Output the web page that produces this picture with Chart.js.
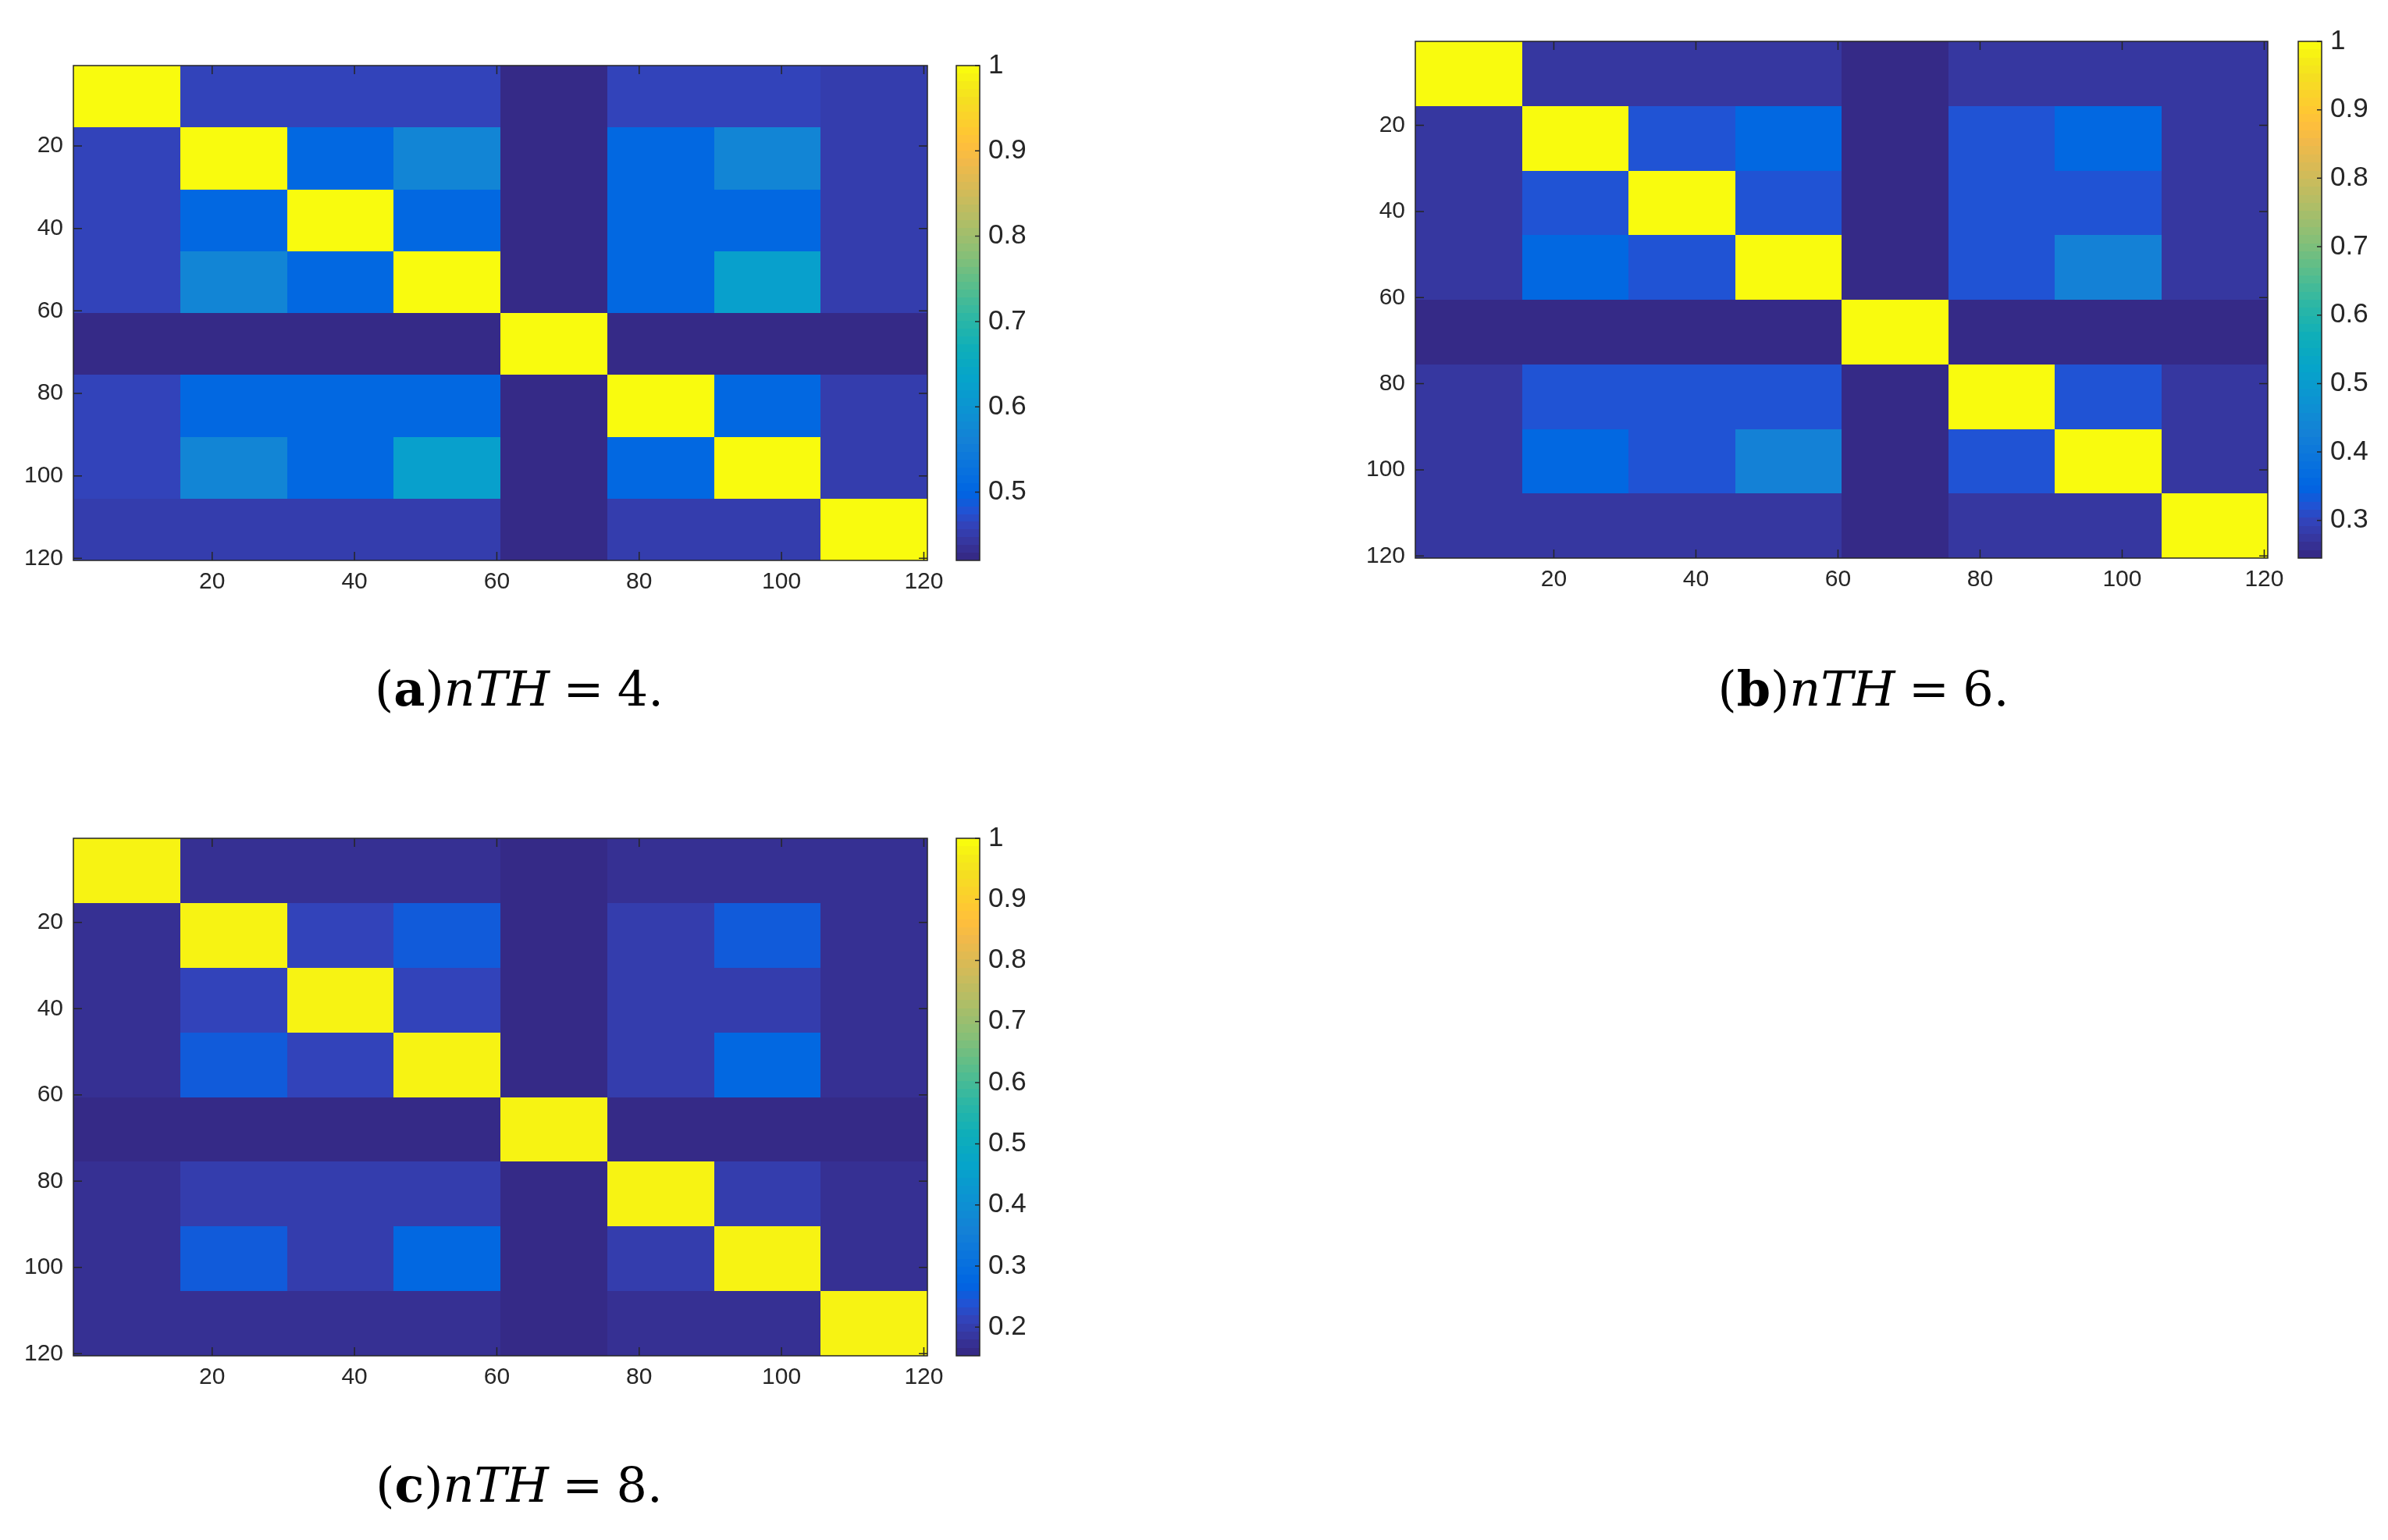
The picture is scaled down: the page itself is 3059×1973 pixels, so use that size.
<!DOCTYPE html>
<html>
<head>
<meta charset="utf-8">
<title>Block similarity matrices, nTH = 4, 6, 8</title>
<script src="https://cdn.jsdelivr.net/npm/chart.js@4.4.1/dist/chart.umd.min.js"></script>
<style>
  body { margin: 0; background: #fff; width: 3059px; height: 1973px; position: relative; overflow: hidden; }
  .box { position: absolute; }
  .box canvas { display: block; }
  .cap { position: absolute; width: 800px; text-align: center; font-family: "DejaVu Serif", serif;
         font-size: 62px; line-height: 1; color: #000; white-space: nowrap; }
  .cap .eq { margin: 0 0.28em; }
</style>
</head>
<body>
<div class="box" id="mapBoxA"><canvas id="mapA"></canvas></div>
<div class="box" id="cbBoxA"><canvas id="cbA"></canvas></div>
<div class="box" id="mapBoxB"><canvas id="mapB"></canvas></div>
<div class="box" id="cbBoxB"><canvas id="cbB"></canvas></div>
<div class="box" id="mapBoxC"><canvas id="mapC"></canvas></div>
<div class="box" id="cbBoxC"><canvas id="cbC"></canvas></div>

<div class="cap" style="left:265px; top:852px;">(<b>a</b>)<i>nTH</i><span class="eq">=</span>4.</div>
<div class="cap" style="left:1987px; top:852px;">(<b>b</b>)<i>nTH</i><span class="eq">=</span>6.</div>
<div class="cap" style="left:265px; top:1872px;">(<b>c</b>)<i>nTH</i><span class="eq">=</span>8.</div>

<script>
// 120x120 matrix made of 8 groups of 15 rows/cols
const blockEdges = [0.5, 15.5, 30.5, 45.5, 60.5, 75.5, 90.5, 105.5, 120.5];
const axisTicks = [20, 40, 60, 80, 100, 120];

// (a) nTH = 4
const simA = [
  [1.00, 0.46, 0.46, 0.46, 0.42, 0.46, 0.46, 0.45],
  [0.46, 1.00, 0.505, 0.57, 0.42, 0.505, 0.57, 0.45],
  [0.46, 0.505, 1.00, 0.505, 0.42, 0.505, 0.505, 0.45],
  [0.46, 0.57, 0.505, 1.00, 0.42, 0.505, 0.625, 0.45],
  [0.42, 0.42, 0.42, 0.42, 1.00, 0.42, 0.42, 0.42],
  [0.46, 0.505, 0.505, 0.505, 0.42, 1.00, 0.505, 0.45],
  [0.46, 0.57, 0.505, 0.625, 0.42, 0.505, 1.00, 0.45],
  [0.45, 0.45, 0.45, 0.45, 0.42, 0.45, 0.45, 1.00]
];
const rangeA = [0.42, 1];
const cbTicksA = [0.5, 0.6, 0.7, 0.8, 0.9, 1];

// (b) nTH = 6
const simB = [
  [1.00, 0.27, 0.27, 0.27, 0.25, 0.27, 0.27, 0.27],
  [0.27, 1.00, 0.32, 0.355, 0.25, 0.32, 0.355, 0.27],
  [0.27, 0.32, 1.00, 0.32, 0.25, 0.32, 0.32, 0.27],
  [0.27, 0.355, 0.32, 1.00, 0.25, 0.32, 0.43, 0.27],
  [0.25, 0.25, 0.25, 0.25, 1.00, 0.25, 0.25, 0.25],
  [0.27, 0.32, 0.32, 0.32, 0.25, 1.00, 0.32, 0.27],
  [0.27, 0.355, 0.32, 0.43, 0.25, 0.32, 1.00, 0.27],
  [0.27, 0.27, 0.27, 0.27, 0.25, 0.27, 0.27, 1.00]
];
const rangeB = [0.245, 1];
const cbTicksB = [0.3, 0.4, 0.5, 0.6, 0.7, 0.8, 0.9, 1];

// (c) nTH = 8
const simC = [
  [0.985, 0.17, 0.17, 0.17, 0.155, 0.17, 0.17, 0.17],
  [0.17, 0.985, 0.21, 0.25, 0.155, 0.20, 0.25, 0.17],
  [0.17, 0.21, 0.985, 0.21, 0.155, 0.20, 0.20, 0.17],
  [0.17, 0.25, 0.21, 0.985, 0.155, 0.20, 0.275, 0.17],
  [0.155, 0.155, 0.155, 0.155, 0.985, 0.155, 0.155, 0.155],
  [0.17, 0.20, 0.20, 0.20, 0.155, 0.985, 0.20, 0.17],
  [0.17, 0.25, 0.20, 0.275, 0.155, 0.20, 0.985, 0.17],
  [0.17, 0.17, 0.17, 0.17, 0.155, 0.17, 0.17, 0.985]
];
const rangeC = [0.153, 1];
const cbTicksC = [0.2, 0.3, 0.4, 0.5, 0.6, 0.7, 0.8, 0.9, 1];

// parula colormap, a few of its 64 entries (index, r, g, b)
const parulaStops = [
  [0, 0.2081, 0.1663, 0.5292], [2, 0.2123, 0.2138, 0.6270], [4, 0.1959, 0.2645, 0.7279],
  [6, 0.1253, 0.3242, 0.8303], [8, 0.0117, 0.3875, 0.8820], [9, 0.0060, 0.4086, 0.8828],
  [11, 0.0329, 0.4430, 0.8720], [15, 0.0779, 0.5040, 0.8384], [19, 0.0488, 0.5772, 0.8228],
  [23, 0.0231, 0.6418, 0.7913], [27, 0.0590, 0.6838, 0.7254], [31, 0.1801, 0.7177, 0.6424],
  [35, 0.3482, 0.7424, 0.5473], [39, 0.5300, 0.7491, 0.4661], [43, 0.6834, 0.7435, 0.4044],
  [47, 0.8185, 0.7327, 0.3498], [51, 0.9450, 0.7261, 0.2886], [53, 0.9938, 0.7455, 0.2403],
  [55, 0.9955, 0.7861, 0.1967], [59, 0.9626, 0.8705, 0.1309], [61, 0.9598, 0.9218, 0.0948],
  [63, 0.9763, 0.9831, 0.0538]
];

function parula(k) {
  // k: colormap index 0..63
  for (let i = 1; i < parulaStops.length; i++) {
    const a = parulaStops[i - 1], b = parulaStops[i];
    if (k <= b[0]) {
      const f = (k - a[0]) / (b[0] - a[0]);
      const c = [1, 2, 3].map(n => Math.round(255 * (a[n] + (b[n] - a[n]) * f)));
      return `rgb(${c[0]},${c[1]},${c[2]})`;
    }
  }
  return 'rgb(249,251,14)';
}

function valueColor(v, range) {
  const t = (v - range[0]) / (range[1] - range[0]);
  return parula(Math.max(0, Math.min(63, Math.floor(t * 64))));
}

function cellsOf(mat) {
  const cells = [];
  mat.forEach((row, i) => row.forEach((v, j) => {
    cells.push({
      x: (blockEdges[j] + blockEdges[j + 1]) / 2, y: (blockEdges[i] + blockEdges[i + 1]) / 2,
      x0: blockEdges[j], x1: blockEdges[j + 1], y0: blockEdges[i], y1: blockEdges[i + 1], v
    });
  }));
  return cells;
}

const ink = '#262626';
Chart.defaults.font.family = '"Liberation Sans", Arial, sans-serif';
Chart.defaults.color = ink;

// draws the matrix cells and the matlab-style box with inward ticks
const heatPlugin = {
  id: 'heatCells',
  beforeDatasetsDraw(chart, args, opts) {
    const { ctx, scales: { x, y } } = chart;
    ctx.save();
    chart.data.datasets[0].data.forEach(c => {
      const l = Math.round(x.getPixelForValue(c.x0)), r = Math.round(x.getPixelForValue(c.x1));
      const t = Math.round(y.getPixelForValue(c.y0)), b = Math.round(y.getPixelForValue(c.y1));
      ctx.fillStyle = valueColor(c.v, opts.range);
      ctx.fillRect(l, Math.min(t, b), r - l, Math.abs(b - t));
    });
    ctx.restore();
  },
  afterDraw(chart) {
    const { ctx, chartArea: a, scales: { x, y } } = chart;
    ctx.save();
    ctx.strokeStyle = ink;
    ctx.lineWidth = 1.5;
    ctx.beginPath();
    x.ticks.forEach(t => {
      const p = x.getPixelForValue(t.value);
      ctx.moveTo(p, a.bottom); ctx.lineTo(p, a.bottom - 11);
      ctx.moveTo(p, a.top); ctx.lineTo(p, a.top + 11);
    });
    y.ticks.forEach(t => {
      const p = y.getPixelForValue(t.value);
      ctx.moveTo(a.left, p); ctx.lineTo(a.left + 11, p);
      ctx.moveTo(a.right, p); ctx.lineTo(a.right - 11, p);
    });
    ctx.stroke();
    ctx.strokeRect(a.left, a.top, a.right - a.left, a.bottom - a.top);
    ctx.restore();
  }
};

const colorbarPlugin = {
  id: 'colorbar',
  beforeDatasetsDraw(chart, args, opts) {
    const { ctx, chartArea: a, scales: { y } } = chart;
    const [lo, hi] = opts.range;
    ctx.save();
    for (let k = 0; k < 64; k++) {
      const p0 = Math.round(y.getPixelForValue(lo + (hi - lo) * k / 64));
      const p1 = Math.round(y.getPixelForValue(lo + (hi - lo) * (k + 1) / 64));
      ctx.fillStyle = parula(k);
      ctx.fillRect(a.left, p1, a.right - a.left, p0 - p1);
    }
    ctx.strokeStyle = ink;
    ctx.lineWidth = 1.5;
    ctx.beginPath();
    y.ticks.forEach(t => {
      const p = y.getPixelForValue(t.value);
      ctx.moveTo(a.right, p); ctx.lineTo(a.right - 6, p);
    });
    ctx.stroke();
    ctx.strokeRect(a.left, a.top, a.right - a.left, a.bottom - a.top);
    ctx.restore();
  }
};

function placeCanvas(boxId, canvasId, left, top, w, h) {
  const box = document.getElementById(boxId);
  box.style.left = left + 'px';
  box.style.top = top + 'px';
  const cv = document.getElementById(canvasId);
  cv.width = w; cv.height = h;
  cv.style.width = w + 'px'; cv.style.height = h + 'px';
  return cv;
}

function drawPanel(key, mat, range, cbTicks, plot, cbLeft) {
  // margins around the plot area are larger than any label overhang, so the area stays put
  const mapCanvas = placeCanvas('mapBox' + key, 'map' + key, plot.left - 90, plot.top - 50,
                                plot.width + 130, plot.height + 110);
  new Chart(mapCanvas, {
    type: 'scatter',
    data: { datasets: [{ data: cellsOf(mat), pointRadius: 0, pointHoverRadius: 0 }] },
    options: {
      responsive: false, animation: false, events: [],
      layout: { padding: { top: 50, right: 40, left: 0, bottom: 0 } },
      plugins: { legend: { display: false }, tooltip: { enabled: false }, heatCells: { range } },
      scales: {
        x: {
          type: 'linear', min: 0.5, max: 120.5,
          afterBuildTicks: s => { s.ticks = axisTicks.map(value => ({ value })); },
          afterFit: s => { s.height = 60; },
          grid: { display: false, drawTicks: false }, border: { display: false },
          ticks: { font: { size: 30 }, padding: 10, maxRotation: 0, callback: v => String(v) }
        },
        y: {
          type: 'linear', min: 0.5, max: 120.5, reverse: true,
          afterBuildTicks: s => { s.ticks = axisTicks.map(value => ({ value })); },
          afterFit: s => { s.width = 90; },
          grid: { display: false, drawTicks: false }, border: { display: false },
          ticks: { font: { size: 30 }, padding: 13, callback: v => String(v) }
        }
      }
    },
    plugins: [heatPlugin]
  });

  const cbCanvas = placeCanvas('cbBox' + key, 'cb' + key, cbLeft - 5, plot.top - 50, 155, plot.height + 100);
  new Chart(cbCanvas, {
    type: 'scatter',
    data: { datasets: [] },
    options: {
      responsive: false, animation: false, events: [],
      layout: { padding: { top: 50, bottom: 50, left: 5, right: 0 } },
      plugins: { legend: { display: false }, tooltip: { enabled: false }, colorbar: { range } },
      scales: {
        x: { display: false, min: 0, max: 1 },
        y: {
          type: 'linear', position: 'right', min: range[0], max: range[1],
          afterBuildTicks: s => { s.ticks = cbTicks.map(value => ({ value })); },
          afterFit: s => { s.width = 120; },
          grid: { display: false, drawTicks: false }, border: { display: false },
          ticks: { font: { size: 35 }, padding: 11, callback: v => String(v) }
        }
      }
    },
    plugins: [colorbarPlugin]
  });
}

drawPanel('A', simA, rangeA, cbTicksA, { left: 94, top: 84, width: 1094, height: 634 }, 1225);
drawPanel('B', simB, rangeB, cbTicksB, { left: 1813, top: 53, width: 1092, height: 662 }, 2944);
drawPanel('C', simC, rangeC, cbTicksC, { left: 94, top: 1074, width: 1094, height: 663 }, 1225);
</script>
</body>
</html>
